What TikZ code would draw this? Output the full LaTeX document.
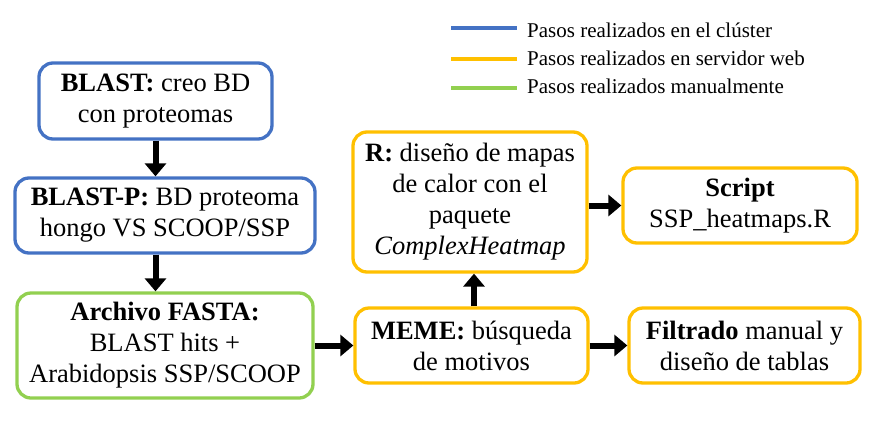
\documentclass[tikz,border=0pt]{standalone}
\usepackage{fontspec}
\setmainfont{Liberation Serif}
\usetikzlibrary{arrows.meta}
\definecolor{cblue}{HTML}{4472C4}
\definecolor{cyellow}{HTML}{FFC000}
\definecolor{cgreen}{HTML}{92D050}
\begin{document}
\begin{tikzpicture}[x=1pt,y=-1pt,
  box/.style={draw, rounded corners=14pt, line width=3.3pt, fill=white, align=center,
    inner sep=0pt, font=\fontsize{26.5}{31}\selectfont},
  conn/.style={line width=6pt, -{Triangle[length=13pt,width=21pt]}},
  legline/.style={line width=4pt},
  legtext/.style={anchor=base west, inner sep=0pt, font=\fontsize{21}{25}\selectfont}]
\useasboundingbox[fill=white] (0,0) rectangle (877,421);
% legend
\draw[legline, cblue] (451,28) -- (517,28);
\node[legtext] (l1) at (527,37) {Pasos realizados en el clúster};
\draw[legline, cyellow] (451,59) -- (517,59);
\node[legtext] (l2) at (527,65.5) {Pasos realizados en servidor web};
\draw[legline, cgreen] (451,88) -- (517,88);
\node[legtext] (l3) at (527,93.5) {Pasos realizados manualmente};
% boxes
\node[box, draw=cblue, minimum width=233pt, minimum height=76pt] (b1) at (155.5,101)
  {\textbf{BLAST:} creo BD\\con proteomas};
\node[box, draw=cblue, minimum width=300pt, minimum height=75pt] (b2) at (165,215.5)
  {\textbf{BLAST-P:} BD proteoma\\hongo VS SCOOP/SSP};
\node[box, draw=cgreen, minimum width=296pt, minimum height=105pt] (b3) at (165,345.5)
  {\textbf{Archivo FASTA:}\\BLAST hits +\\Arabidopsis SSP/SCOOP};
\node[box, draw=cyellow, minimum width=234pt, minimum height=140pt] (r) at (470,202)
  {\textbf{R:} diseño de mapas\\de calor con el\\paquete\\\textit{ComplexHeatmap}};
\node[box, draw=cyellow, minimum width=233pt, minimum height=75pt] (meme) at (471.5,345.5)
  {\textbf{MEME:} búsqueda\\de motivos};
\node[box, draw=cyellow, minimum width=234pt, minimum height=75pt] (script) at (740,205.5)
  {\textbf{Script}\\SSP\_heatmaps.R};
\node[box, draw=cyellow, minimum width=231pt, minimum height=75pt] (filt) at (744.5,345.5)
  {\textbf{Filtrado} manual y\\diseño de tablas};
% connectors
\draw[conn] (b1.south) -- (b1.south |- b2.north);
\draw[conn] (b1.south |- b2.south) -- (b1.south |- b3.north);
\draw[conn] (b3.east) -- (meme.west);
\draw[conn] ([xshift=2.5pt]meme.north) -- ([xshift=2.5pt]meme.north |- r.south);
\draw[conn] (script.west -| r.east) -- (script.west);
\draw[conn] (meme.east) -- (filt.west);
\end{tikzpicture}
\end{document}
